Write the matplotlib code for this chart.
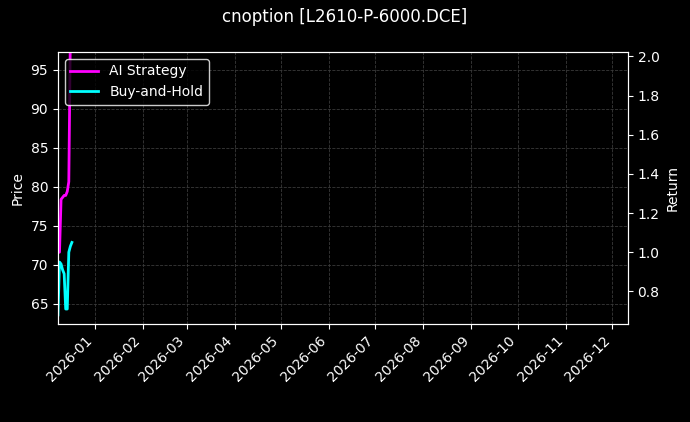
import matplotlib
matplotlib.use("Agg")
import matplotlib.pyplot as plt
import matplotlib.dates as mdates
import datetime as dt

dates = [dt.date(2025, 12, 8) + dt.timedelta(days=i) for i in range(10)]
ai_ret = [1.0, 1.0, 1.27, 1.28, 1.29, 1.29, 1.31, 1.36, 2.1]
bh_ret = [0.68, 0.95, 0.94, 0.91, 0.89, 0.71, 0.71, 1.0, 1.03, 1.05]

plt.style.use("dark_background")
fig, ax = plt.subplots(figsize=(6.9, 4.22), dpi=100)
fig.subplots_adjust(left=0.084, right=0.91, top=0.877, bottom=0.232)
ax2 = ax.twinx()

ax.set_ylim(62.4, 97.3)
ax.set_ylabel("Price")
ax2.set_ylim(0.633, 2.023)
ax2.set_ylabel("Return")

ax2.plot(dates[:len(ai_ret)], ai_ret, color="#ff00ff", lw=2, label="AI Strategy")
ax2.plot(dates, bh_ret, color="#00ffff", lw=2, label="Buy-and-Hold")

ax.set_xlim(dt.date(2025, 12, 8), dt.date(2026, 12, 11))
ax.xaxis.set_major_locator(mdates.MonthLocator())
ax.xaxis.set_major_formatter(mdates.DateFormatter("%Y-%m"))
plt.setp(ax.get_xticklabels(), rotation=45, ha="right")
ax.grid(True, color="#3a3a3a", ls="--", lw=0.6)

h, l = ax2.get_legend_handles_labels()
ax2.legend(h, l, loc="upper left", facecolor="black", edgecolor="white")
fig.suptitle("cnoption [L2610-P-6000.DCE]", fontsize=12)
fig.savefig("out.png", dpi=100)
